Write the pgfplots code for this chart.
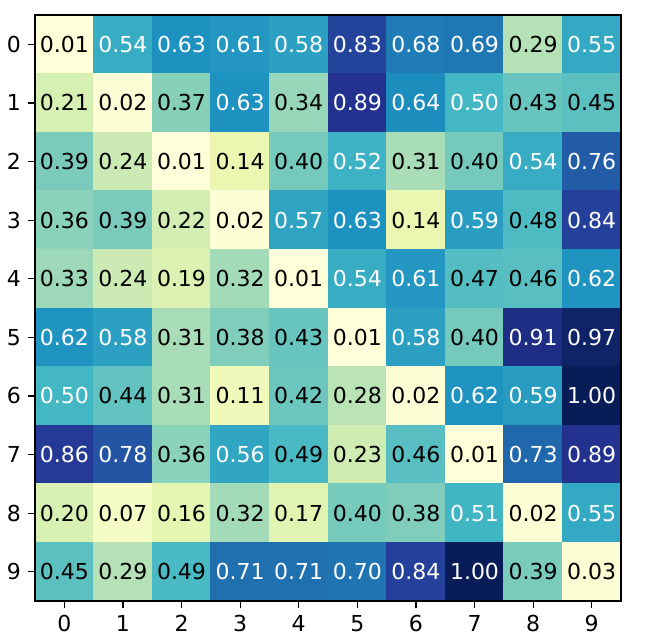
\documentclass[border=0pt]{standalone}
\usepackage{fontspec}
\setmainfont{DejaVu Sans}
\usepackage{pgfplots}
\usepackage{pgfplotstable}
\pgfplotsset{compat=1.18}

% heatmap values: x = column, y = row
\pgfplotstableread{
x y C
0 0 0.01
1 0 0.54
2 0 0.63
3 0 0.61
4 0 0.58
5 0 0.83
6 0 0.68
7 0 0.69
8 0 0.29
9 0 0.55
0 1 0.21
1 1 0.02
2 1 0.37
3 1 0.63
4 1 0.34
5 1 0.89
6 1 0.64
7 1 0.50
8 1 0.43
9 1 0.45
0 2 0.39
1 2 0.24
2 2 0.01
3 2 0.14
4 2 0.40
5 2 0.52
6 2 0.31
7 2 0.40
8 2 0.54
9 2 0.76
0 3 0.36
1 3 0.39
2 3 0.22
3 3 0.02
4 3 0.57
5 3 0.63
6 3 0.14
7 3 0.59
8 3 0.48
9 3 0.84
0 4 0.33
1 4 0.24
2 4 0.19
3 4 0.32
4 4 0.01
5 4 0.54
6 4 0.61
7 4 0.47
8 4 0.46
9 4 0.62
0 5 0.62
1 5 0.58
2 5 0.31
3 5 0.38
4 5 0.43
5 5 0.01
6 5 0.58
7 5 0.40
8 5 0.91
9 5 0.97
0 6 0.50
1 6 0.44
2 6 0.31
3 6 0.11
4 6 0.42
5 6 0.28
6 6 0.02
7 6 0.62
8 6 0.59
9 6 1.00
0 7 0.86
1 7 0.78
2 7 0.36
3 7 0.56
4 7 0.49
5 7 0.23
6 7 0.46
7 7 0.01
8 7 0.73
9 7 0.89
0 8 0.20
1 8 0.07
2 8 0.16
3 8 0.32
4 8 0.17
5 8 0.40
6 8 0.38
7 8 0.51
8 8 0.02
9 8 0.55
0 9 0.45
1 9 0.29
2 9 0.49
3 9 0.71
4 9 0.71
5 9 0.70
6 9 0.84
7 9 1.00
8 9 0.39
9 9 0.03
}\heat

\pgfplotsset{
  cell text/.style={draw=none, mark=none, point meta=explicit,
    unbounded coords=discard,
    nodes near coords={\pgfmathprintnumber[fixed,fixed zerofill,precision=2]{\pgfplotspointmeta}},
    every node near coord/.append style={anchor=center, text=#1,
      font=\fontsize{11}{13}\selectfont}},
}

\begin{document}
\begin{tikzpicture}
\begin{axis}[
  width=293pt, height=293pt, scale only axis,
  xmin=-0.5, xmax=9.5, ymin=-0.5, ymax=9.5,
  y dir=reverse, enlargelimits=false, axis on top,
  xtick={0,...,9}, ytick={0,...,9},
  xtick pos=left, ytick pos=left,
  tick align=outside, major tick length=3.5pt,
  tick style={black, line width=0.6pt},
  axis line style={line width=0.7pt},
  tick label style={font=\fontsize{11}{13}\selectfont},
  /pgf/number format/assume math mode=true,
  colormap={ylgnbu}{rgb255=(255,255,217) rgb255=(237,248,177) rgb255=(199,233,180)
    rgb255=(127,205,187) rgb255=(65,182,196) rgb255=(29,145,192) rgb255=(34,94,168)
    rgb255=(37,52,148) rgb255=(8,29,88)},
  point meta min=0.01, point meta max=1,
]
\addplot[matrix plot*, mesh/cols=10, point meta=explicit]
  table[x=x, y=y, meta=C] {\heat};
\addplot[cell text=black, restrict expr to domain={\thisrow{C}}{0:0.495}]
  table[x=x, y=y, meta=C] {\heat};
\addplot[cell text=white, restrict expr to domain={\thisrow{C}}{0.495:1.5}]
  table[x=x, y=y, meta=C] {\heat};
\end{axis}
\path ([shift={(-17.5pt,-21pt)}]current axis.south west)
  rectangle ([shift={(15pt,7.5pt)}]current axis.north east);
\end{tikzpicture}
\end{document}
